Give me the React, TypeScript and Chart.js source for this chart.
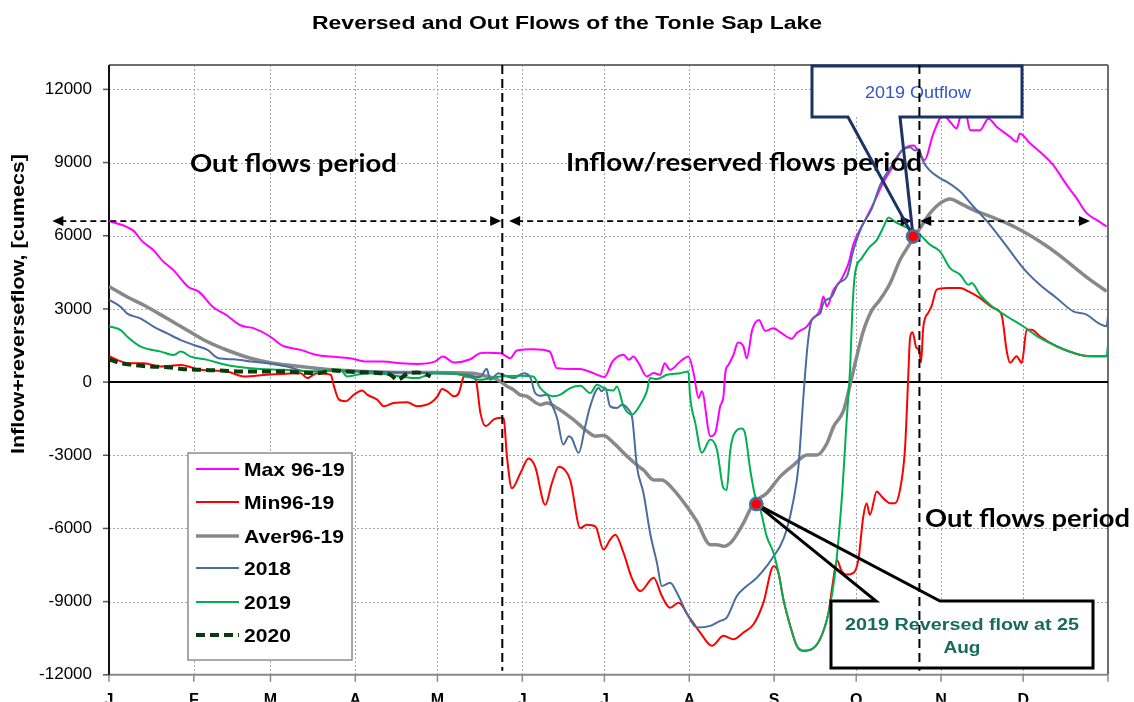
import React, { useEffect, useRef } from 'react';
import { Chart, registerables } from 'chart.js';
Chart.register(...registerables);

// ---------- data (day of year, cumecs) ----------
const monthStarts = [0, 31, 59, 90, 120, 151, 181, 212, 243, 273, 304, 334, 365];
const monthLabels = ['J', 'F', 'M', 'A', 'M', 'J', 'J', 'A', 'S', 'O', 'N', 'D', ''];
const yTicks = [-12000, -9000, -6000, -3000, 0, 3000, 6000, 9000, 12000];
const seriesNames = ['Max 96-19', 'Min96-19', 'Aver96-19', '2018', '2019', '2020'];

const max9619: [number, number][] = [
  [0, 6610], [9, 6200], [12, 5790], [16.4, 5390], [19.5, 4980], [23.7, 4570], [29, 3900], [33, 3690],
  [38, 3080], [43, 2740], [48, 2330], [53, 2200], [59, 1860], [63, 1520], [70, 1320], [76, 1110],
  [81, 1045], [88, 977], [94, 841], [100, 841], [106.5, 773], [112.6, 746], [119, 841], [122, 1045],
  [126, 800], [132, 936], [135.6, 1187], [138, 1208], [143, 1187], [146.6, 982], [149, 1296], [155, 1350],
  [161, 1255], [163.6, 573], [172, 532], [177, 368], [181, 205], [184, 845], [188, 1118], [190, 914],
  [191.6, 1050], [193.5, 777], [196.5, 232], [199, 368], [201.4, 300], [203, 777], [205, 505], [208.7, 845],
  [211.7, 1050], [213.6, 368], [215.4, -655], [216.6, -380], [219.7, -2217], [221.5, -2080], [223.3, -990],
  [224.5, -585], [225.2, 400], [226.4, 720], [228.2, 1130], [229.8, 1620], [231.8, 1460], [233, 980],
  [235, 2140], [237.5, 2550], [239.7, 2100], [242.8, 2210], [245.2, 2050], [249.5, 1780], [251.3, 2013],
  [255, 2285], [256.8, 2557], [259.8, 2965], [261, 3510], [262.3, 3100], [264.7, 3780], [267.1, 4120],
  [269, 4530], [270.2, 4870], [272, 5660], [276.3, 6650], [279.3, 7317], [283, 8210], [286.6, 8880],
  [289.5, 9470], [294, 9700], [296, 9400], [298, 9100], [301, 10130], [304.8, 10945], [307.3, 10672],
  [309.7, 10400], [311, 10877], [312.8, 11150], [314.6, 10330], [318.2, 10330], [321.3, 10800],
  [324.3, 10470], [329.2, 10060], [331.6, 9850], [332.8, 10195], [336.5, 9790], [340.1, 9445], [345, 8900],
  [349.9, 8083], [353.5, 7540], [357.2, 6925], [360.8, 6650], [364.5, 6380],
];

const min9619: [number, number][] = [
  [0, 1070], [3, 910], [6.7, 773], [12.8, 773], [18.9, 638], [26.2, 705], [33.5, 502], [43, 434],
  [49.3, 230], [57.8, 300], [70, 366], [72.4, 163], [76, 366], [81, 300], [82.2, -176], [84, -720],
  [86.4, -787], [89.5, -515], [92.5, -340], [94.3, -515], [98, -720], [100.4, -990], [104, -855],
  [109, -830], [112.6, -990], [117.5, -855], [120, -583], [121.7, -285], [123.6, -380], [126, -583],
  [127.8, -447], [129, 27], [129.6, 230], [132, 230], [134, 95], [135.7, -1262], [137.6, -1805],
  [140.6, -1533], [143, -1465], [144.2, -1496], [145.4, -3060], [147.2, -4352], [150.3, -3740],
  [153.3, -3128], [155.7, -3468], [159.4, -5032], [161.8, -4148], [164.3, -3468], [168.5, -4012],
  [172.2, -5984], [174.6, -5848], [177.7, -5916], [180.7, -6868], [183.1, -6460], [185, -6256],
  [188, -7004], [191, -8024], [194.1, -8568], [199, -8024], [202, -8772], [205, -9248], [208.1, -9044],
  [211.7, -9588], [216, -10268], [220.3, -10812], [224.5, -10404], [228.2, -10540], [231.8, -10268],
  [235.5, -9928], [239.1, -9044], [242.8, -7548], [244.6, -7820], [246.4, -8908], [248.9, -9996],
  [251.3, -10812], [253.7, -11016], [256.8, -10948], [259.8, -10540], [262.9, -9452], [264.5, -8200],
  [266, -7300], [267.5, -7700], [269.5, -7890], [272, -7820], [273.8, -7276], [275.6, -5508],
  [276.8, -4964], [278, -5440], [280.5, -4488], [282.3, -4692], [283.5, -4828], [285.4, -4964],
  [287.2, -4964], [289, -4420], [290.8, -2788], [291.4, -1428], [292, 204], [292.7, 1836], [293.6, 2040],
  [294.9, 1428], [296, 1292], [296.7, 816], [297.5, 2244], [299.4, 2856], [300.5, 3100], [302.4, 3790],
  [306, 3857], [311, 3857], [314, 3720], [318.2, 3450], [323.1, 3040], [326.1, 2767], [328, 1270],
  [329.2, 790], [331.6, 1063], [333.5, 790], [335.3, 2150], [337.1, 2150], [340.1, 1880], [346.2, 1470],
  [352.3, 1200], [358.4, 1063], [364.5, 1063],
];

const aver9619: [number, number][] = [
  [0, 3920], [6.7, 3490], [12.8, 3150], [21.3, 2605], [28.6, 2130], [36, 1655], [43, 1316], [51.7, 977],
  [60, 773], [70, 638], [82, 502], [94, 434], [106.5, 393], [118.7, 393], [133, 366], [135.6, 300],
  [140.6, 163], [143, 27], [145.5, -176], [147.8, -313], [150, -515], [152.7, -585], [157.6, -925],
  [160, -857], [163.7, -1060], [169.7, -1540], [174.6, -2010], [177.7, -2217], [180.7, -2190],
  [184.3, -2490], [189.2, -3030], [194.1, -3510], [195.3, -3604], [199, -4012], [202, -4012],
  [206.3, -4420], [211.1, -5100], [214.8, -5712], [219.7, -6664], [222.1, -6664], [224.5, -6732],
  [227.6, -6528], [231.8, -5780], [235.5, -4964], [240.3, -4556], [245.2, -3876], [250.1, -3400],
  [255, -2992], [258.6, -2992], [262.3, -2516], [264.7, -1836], [268.4, -1156], [271, 0], [273, 950],
  [275.5, 2050], [278.5, 2900], [281.7, 3373], [285.4, 4053], [289, 5005], [292.7, 5685], [293.9, 5900],
  [296.3, 6310], [300, 6925], [303.6, 7330], [307.3, 7510], [311, 7330], [315.8, 7060], [321.9, 6790],
  [328, 6515], [334, 6175], [340.1, 5765], [346.2, 5290], [352.3, 4743], [358.4, 4200], [364.5, 3720],
];

const y2018: [number, number][] = [
  [0, 3380], [4.3, 3080], [6.7, 2810], [11.6, 2605], [16.4, 2266], [21.3, 1995], [26.2, 1723], [31, 1520],
  [36, 1316], [40, 977], [45.6, 936], [51.7, 841], [57.8, 773], [65, 638], [72.4, 434], [82, 475],
  [94, 434], [106.5, 393], [118.7, 366], [130.9, 298], [135.6, 204], [138, 550], [139.3, 95],
  [142.3, 367], [145.4, 231], [147.8, 163], [151.5, 367], [153.9, 204], [155.7, -449], [157.6, -558],
  [160, -517], [161.8, -925], [163.7, -1470], [166, -2560], [168, -2220], [169, -2290], [171.6, -2900],
  [174, -1810], [175.8, -995], [178.9, -245], [180, -380], [181.3, -245], [183.1, -995], [185.6, -1063],
  [187.4, -925], [189.8, -1130], [191.2, -1500], [192.9, -3468], [195.3, -4556], [197.7, -6188],
  [200.2, -7412], [202, -8364], [205, -8228], [207.5, -8636], [211, -9452], [214.8, -10064],
  [219.7, -9996], [223.3, -9792], [225.7, -9656], [229.4, -8772], [233, -8364], [236.7, -8024],
  [240.3, -7548], [242.8, -7140], [245.2, -6732], [247.6, -6052], [250.1, -4828], [251.9, -3468],
  [253.7, -612], [255.3, 1580], [256.8, 2557], [259.8, 2810], [261, 3237], [264.1, 3510], [266.5, 4053],
  [269.6, 4325], [272, 5413], [275, 6365], [278.7, 7113], [281.7, 8065], [286, 8880], [289.7, 9493],
  [292.7, 9630], [294.5, 9493], [295.8, 9560], [297.5, 9035], [303.6, 8355], [306, 8220], [311, 7810],
  [315.8, 7200], [321.9, 6450], [328, 5560], [334, 4675], [340.1, 3990], [346.2, 3450], [352.3, 2900],
  [357.2, 2767], [361.4, 2426], [364.5, 2290], [365, 2700],
];

const y2019: [number, number][] = [
  [0, 2290], [4.3, 2130], [6.7, 1860], [11.6, 1450], [18.9, 1250], [23.7, 1113], [26.2, 1250],
  [29.8, 1045], [36, 910], [43, 705], [51.7, 570], [64, 502], [76, 434], [84.6, 502], [87, 230], [94, 366],
  [100, 340], [106.5, 230], [112.6, 163], [118.7, 366], [124.8, 366], [130.9, 230], [135.6, 95],
  [143, 231], [150.3, 258], [155, 231], [157.6, -245], [162.4, -585], [164.9, -517], [168.5, -245],
  [172.2, -150], [175.8, -449], [178.3, -109], [181.9, -313], [184.3, -340], [185.6, -177], [188, -995],
  [191, -1333], [194.1, -925], [196.5, -381], [197.7, 163], [200.2, 122], [203.8, 300], [208.7, 367],
  [211.7, 435], [212.3, -585], [214.2, -1673], [216.6, -2897], [219.7, -2353], [222.1, -2761],
  [224.5, -4352], [225.7, -4420], [227, -2788], [229.4, -1972], [231.2, -1904], [232.4, -2108],
  [234.3, -3604], [236.1, -4692], [238, -5236], [240.3, -6324], [242.8, -7004], [244.6, -7820],
  [246.4, -8908], [248.9, -9996], [251.3, -10812], [253.7, -11016], [256.8, -10948], [259.8, -10540],
  [262.9, -9452], [265.3, -7820], [267.7, -4828], [269.6, -1428], [270.8, 612], [271.6, 2965],
  [272.6, 4460], [275, 5073], [278, 5550], [280.5, 5820], [283, 6365], [284.8, 6745], [287.2, 6570],
  [289.7, 6430], [292.7, 6270], [296.3, 6040], [300, 5630], [303.6, 5360], [307.3, 4675], [311, 4400],
  [314, 3990], [315.2, 4060], [318.2, 3585], [321.9, 3175], [328, 2700], [334, 2290], [340.1, 1810],
  [346.2, 1470], [352.3, 1200], [358.4, 1063], [364.5, 1063], [365, 1540],
];

const y2020: [number, number][] = [
  [0, 936], [4.3, 773], [9, 705], [15, 638], [21.3, 610], [27.4, 530], [33.5, 502], [40.8, 475],
  [48, 434], [55.4, 434], [62.7, 434], [70, 393], [76, 366], [82, 475], [87, 434], [94.3, 393],
  [99, 366], [102.9, 298], [105.3, 95], [109, 340], [112.6, 393], [116.3, 298], [117.5, 230],
];

// highlighted 2019 points (25 Aug reversal, October outflow)
const markerDays = [236.5, 293.8];
const markerVals = [-5000, 5970];

// period boundaries and period arrows (day-of-year)
const boundaryDays = [143.7, 296.1];
const arrowLevel = 6600;
const arrowSpans: [number, number][] = [[-20.7, 143.3], [146.2, 293.3], [296.4, 358.4]];

const seriesColors = ['#ff00ff', '#ff0000', '#888888', '#4a6c9e', '#00b050', '#0b3b0b'];
const seriesWidths = [2, 2, 3.5, 2, 2, 4];

const FONT = '"Liberation Sans", Arial, sans-serif';

function fitText(
  ctx: CanvasRenderingContext2D, text: string, x: number, y: number, font: string,
  color: string, width: number | null, align: CanvasTextAlign = 'left', sxFixed?: number,
) {
  ctx.save();
  ctx.font = font;
  const w = ctx.measureText(text).width;
  const sx = sxFixed ?? (width ? width / w : 1);
  ctx.translate(x, y);
  ctx.scale(sx, 1);
  ctx.fillStyle = color;
  ctx.textAlign = align;
  ctx.textBaseline = 'alphabetic';
  ctx.fillText(text, 0, 0);
  ctx.restore();
}

function line(ctx: CanvasRenderingContext2D, x1: number, y1: number, x2: number, y2: number) {
  ctx.beginPath();
  ctx.moveTo(x1, y1);
  ctx.lineTo(x2, y2);
  ctx.stroke();
}

function arrowHead(ctx: CanvasRenderingContext2D, tipX: number, y: number, dir: number) {
  ctx.beginPath();
  ctx.moveTo(tipX, y);
  ctx.lineTo(tipX - dir * 11, y - 5);
  ctx.lineTo(tipX - dir * 11, y + 5);
  ctx.closePath();
  ctx.fill();
}

const backgroundPlugin = {
  id: 'bg',
  beforeDatasetsDraw(chart: any) {
    const { ctx, chartArea: a, scales } = chart;
    const xs = scales.x, ys = scales.y;
    ctx.save();
    // dotted grid
    ctx.strokeStyle = '#a8a8a8';
    ctx.lineWidth = 1;
    ctx.setLineDash([2, 2]);
    yTicks.forEach((v) => {
      if (v === 0 || v === -12000) return;
      const py = Math.round(ys.getPixelForValue(v)) + 0.5;
      line(ctx, a.left, py, a.right, py);
    });
    monthStarts.slice(1, -1).forEach((d) => {
      const px = Math.round(xs.getPixelForValue(d)) + 0.5;
      line(ctx, px, a.top, px, a.bottom);
    });
    ctx.setLineDash([]);
    // frame
    ctx.strokeStyle = '#6e6e6e';
    ctx.lineWidth = 2;
    line(ctx, a.left, a.top, a.right, a.top);
    line(ctx, a.right, a.top, a.right, a.bottom);
    ctx.strokeStyle = '#8a8a8a';
    line(ctx, a.left, a.bottom, a.right, a.bottom);
    // x tick marks
    ctx.lineWidth = 1.5;
    monthStarts.forEach((d) => {
      const px = xs.getPixelForValue(d);
      line(ctx, px, a.bottom, px, a.bottom + 7);
    });
    // y tick marks
    ctx.strokeStyle = '#555';
    yTicks.forEach((v) => {
      const py = ys.getPixelForValue(v);
      line(ctx, a.left - 6, py, a.left, py);
    });
    // left axis
    ctx.strokeStyle = '#111';
    ctx.lineWidth = 2;
    line(ctx, a.left, a.top, a.left, a.bottom);
    // zero line
    const p0 = ys.getPixelForValue(0);
    ctx.strokeStyle = '#000';
    ctx.lineWidth = 2;
    line(ctx, a.left, p0, a.right, p0);
    ctx.restore();
  },
  afterDatasetsDraw(chart: any) {
    const { ctx, chartArea: a, scales } = chart;
    const xs = scales.x, ys = scales.y;
    ctx.save();

    // title
    fitText(ctx, 'Reversed and Out Flows of the Tonle Sap Lake', 567, 29, `bold 19px ${FONT}`, '#000', 510, 'center');

    // y axis title (stretched along its length)
    ctx.save();
    ctx.translate(24, 304);
    ctx.rotate(-Math.PI / 2);
    ctx.font = `bold 18px ${FONT}`;
    const yt = 'Inflow+reverseflow, [cumecs]';
    const ytw = ctx.measureText(yt).width;
    ctx.scale(300 / ytw, 1);
    ctx.fillStyle = '#000';
    ctx.textAlign = 'center';
    ctx.fillText(yt, 0, 0);
    ctx.restore();

    // period arrows
    const ay = ys.getPixelForValue(arrowLevel);
    ctx.strokeStyle = '#000';
    ctx.fillStyle = '#000';
    ctx.lineWidth = 1.8;
    arrowSpans.forEach(([d1, d2]) => {
      const x1 = xs.getPixelForValue(d1);
      const x2 = xs.getPixelForValue(d2);
      ctx.setLineDash([6, 4]);
      line(ctx, x1 + 8, ay, x2 - 8, ay);
      ctx.setLineDash([]);
      arrowHead(ctx, x1, ay, -1);
      arrowHead(ctx, x2, ay, 1);
    });

    // period texts
    const pf = 'bold 24px Lato, "Open Sans", sans-serif';
    fitText(ctx, 'Out flows period', 190, 172, pf, '#000', 207);
    fitText(ctx, 'Inflow/reserved flows period', 566, 171, pf, '#000', 356);
    fitText(ctx, 'Out flows period', 925, 527, pf, '#000', 205);

    // markers pixel positions (through scales)
    const mA = { x: xs.getPixelForValue(markerDays[0]), y: ys.getPixelForValue(markerVals[0]) };
    const mB = { x: xs.getPixelForValue(markerDays[1]), y: ys.getPixelForValue(markerVals[1]) };

    ctx.lineJoin = 'miter';
    // callout 1: 2019 Outflow
    {
      const L = 812, T = 66, R = 1022, B = 117;
      ctx.fillStyle = '#fff';
      ctx.fillRect(L, T, R - L, B - T);
      ctx.strokeStyle = '#1c3366';
      ctx.lineWidth = 3;
      ctx.beginPath();
      ctx.moveTo(848, B);
      ctx.lineTo(L, B);
      ctx.lineTo(L, T);
      ctx.lineTo(R, T);
      ctx.lineTo(R, B);
      ctx.lineTo(900, B);
      ctx.lineTo(mB.x, mB.y);
      ctx.closePath();
      ctx.stroke();
      fitText(ctx, '2019 Outflow', 918, 98, `17px ${FONT}`, '#3355cc', 106, 'center');
    }
    // callout 2: reversed flow
    {
      const L = 831, T = 601, R = 1093, B = 668;
      ctx.fillStyle = '#fff';
      ctx.fillRect(L, T, R - L, B - T);
      ctx.strokeStyle = '#000';
      ctx.lineWidth = 3;
      ctx.beginPath();
      ctx.moveTo(876, T);
      ctx.lineTo(L, T);
      ctx.lineTo(L, B);
      ctx.lineTo(R, B);
      ctx.lineTo(R, T);
      ctx.lineTo(940, T);
      ctx.lineTo(mA.x, mA.y);
      ctx.closePath();
      ctx.stroke();
      fitText(ctx, '2019 Reversed flow at 25', 962, 630, `bold 16px ${FONT}`, '#176b5a', 234, 'center');
      fitText(ctx, 'Aug', 962, 653, `bold 16px ${FONT}`, '#176b5a', 37, 'center');
    }

    // boundary dashed lines
    ctx.strokeStyle = '#000';
    ctx.lineWidth = 2;
    ctx.setLineDash([9, 5]);
    boundaryDays.forEach((d) => {
      const px = xs.getPixelForValue(d);
      line(ctx, px, a.top, px, a.bottom - 4);
    });
    ctx.setLineDash([]);

    // legend
    {
      const L = 188, T = 453, R = 352, B = 660;
      ctx.fillStyle = '#fff';
      ctx.fillRect(L, T, R - L, B - T);
      ctx.strokeStyle = '#8c8c8c';
      ctx.lineWidth = 1.5;
      ctx.strokeRect(L, T, R - L, B - T);
      const rows = [469, 502, 536, 568, 602, 635];
      chart.data.datasets.slice(0, 6).forEach((ds: any, i: number) => {
        const ry = rows[i];
        ctx.strokeStyle = ds.borderColor;
        ctx.lineWidth = ds.borderWidth;
        ctx.setLineDash(ds.borderDash || []);
        line(ctx, 196, ry, 239, ry);
        ctx.setLineDash([]);
        fitText(ctx, ds.label, 244, ry + 7, `bold 18.5px ${FONT}`, '#000', null, 'left', 1.14);
      });
    }
    ctx.restore();

    // redraw highlighted points on top of callouts
    const meta = chart.getDatasetMeta(6);
    meta.data.forEach((el: any) => el.draw(ctx, a));
  },
};

export default function App() {
  const ref = useRef<HTMLCanvasElement | null>(null);
  useEffect(() => {
    if (!ref.current) return;
    const toXY = (arr: [number, number][]) => arr.map(([x, y]) => ({ x, y }));
    const all = [max9619, min9619, aver9619, y2018, y2019, y2020];
    const datasets: any[] = all.map((arr, i) => ({
      label: seriesNames[i],
      data: toXY(arr),
      borderColor: seriesColors[i],
      backgroundColor: seriesColors[i],
      borderWidth: seriesWidths[i],
      borderDash: i === 5 ? [9, 5] : [],
      pointRadius: 0,
      fill: false,
      cubicInterpolationMode: 'monotone',
      order: 6 - i,
    }));
    datasets.push({
      label: 'markers',
      data: markerDays.map((d, i) => ({ x: d, y: markerVals[i] })),
      showLine: false,
      pointRadius: 6,
      pointBackgroundColor: '#ff0000',
      pointBorderColor: '#4d6e9c',
      pointBorderWidth: 2.5,
      order: 0,
    });
    const chart = new Chart(ref.current, {
      type: 'line',
      data: { datasets },
      options: {
        responsive: false,
        animation: false,
        layout: { padding: { top: 65, right: 26, bottom: 0, left: 0 } },
        plugins: { legend: { display: false }, title: { display: false }, tooltip: { enabled: false } },
        scales: {
          x: {
            type: 'linear',
            min: 0,
            max: 365,
            afterBuildTicks: (s: any) => { s.ticks = monthStarts.map((v) => ({ value: v })); },
            afterFit: (s: any) => { s.height = 27; },
            grid: { display: false, drawTicks: false, tickLength: 0 },
            border: { display: false },
            ticks: {
              autoSkip: false,
              maxRotation: 0,
              padding: 16,
              color: '#000',
              font: { family: FONT, size: 16, weight: 'bold' },
              callback: (_v: any, i: number) => monthLabels[i],
            },
          },
          y: {
            type: 'linear',
            min: -12000,
            max: 13000,
            afterBuildTicks: (s: any) => { s.ticks = yTicks.map((v) => ({ value: v })); },
            afterFit: (s: any) => { s.width = 109; },
            grid: { display: false, drawTicks: false, tickLength: 0 },
            border: { display: false },
            ticks: {
              padding: 17,
              color: '#000',
              font: { family: FONT, size: 17 },
              callback: (v: any) => String(v),
            },
          },
        },
      } as any,
      plugins: [backgroundPlugin],
    });
    return () => chart.destroy();
  }, []);
  return (
    <div style={{ position: 'fixed', left: 0, top: 0, width: 1134, height: 702, background: '#fff' }}>
      <canvas ref={ref} width={1134} height={702} style={{ width: 1134, height: 702, display: 'block' }} />
    </div>
  );
}
